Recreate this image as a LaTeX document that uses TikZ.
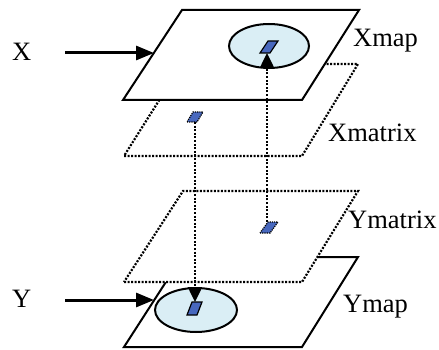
\documentclass[tikz,border=0pt]{standalone}
\usepackage{fontspec}
\setmainfont{Liberation Serif}
\usetikzlibrary{arrows.meta}
\definecolor{sqblue}{RGB}{72,104,190}
\definecolor{ellfill}{RGB}{218,238,245}
\begin{document}
\begin{tikzpicture}[x=1pt,y=-1pt,
 plane/.style={draw=black,fill=white,line width=2pt,line join=miter},
 dplane/.style={draw=black,fill=white,line width=2.2pt,dash pattern=on 2pt off 1.5pt},
 spot/.style={draw=black,fill=ellfill,line width=2pt},
 cell/.style={draw=black,fill=sqblue,line width=1.2pt},
 dcell/.style={draw=black,fill=sqblue,line width=1.2pt,dash pattern=on 1.2pt off 1pt},
 link/.style={line width=2.5pt,dash pattern=on 2pt off 1.6pt,-{Triangle[length=15pt,width=14pt]}},
 feed/.style={line width=3pt,-{Triangle[length=18pt,width=14pt]}},
 lbl/.style={font=\fontsize{26.5}{30}\selectfont,inner sep=0pt,anchor=base west}]
\useasboundingbox (0,0) rectangle (439,350);
% Ymap plane
\draw[plane] (124,347) -- (302,347) -- (358,257) -- (182,257) -- cycle;
\draw[spot] (196,310) ellipse [x radius=41pt,y radius=22pt];
\draw[cell] (187,315) -- (197,315) -- (202,302) -- (192,302) -- cycle;
% Ymatrix plane
\draw[dplane] (124,282) -- (302,282) -- (358,191) -- (183,191) -- cycle;
\draw[dcell] (260,233) -- (270,233) -- (278,222) -- (268,222) -- cycle;
% Xmatrix plane
\draw[dplane] (124,156) -- (302,156) -- (358,64) -- (182,64) -- cycle;
\draw[dcell] (187,122) -- (197,122) -- (203,112) -- (193,112) -- cycle;
% Xmap plane
\draw[plane] (123,100) -- (302,100) -- (359,10) -- (182,10) -- cycle;
\draw[spot] (269,46) ellipse [x radius=40pt,y radius=22pt];
\draw[cell] (260,53) -- (270,53) -- (278,41) -- (268,41) -- cycle;
% anchor points
\coordinate (ymcell) at (195,122);
\coordinate (ymaptop) at (195,302);
\coordinate (ymxcell) at (267,222);
\coordinate (xmapbot) at (267,53);
\coordinate (xin) at (154,53);
\coordinate (yin) at (154,300);
% labels
\node[lbl] (X) at (12,61) {X};
\node[lbl] (Y) at (12,307) {Y};
\node[lbl] (Xmap) at (353,47) {Xmap};
\node[lbl] (Xmatrix) at (328,142) {Xmatrix};
\node[lbl] (Ymatrix) at (348,228) {Ymatrix};
\node[lbl] (Ymap) at (343,312) {Ymap};
% connectors
\draw[feed] (65,53) -- (xin);
\draw[feed] (65,300) -- (yin);
\draw[link] (ymcell) -- (ymaptop);
\draw[link] (ymxcell) -- (xmapbot);
\end{tikzpicture}
\end{document}
